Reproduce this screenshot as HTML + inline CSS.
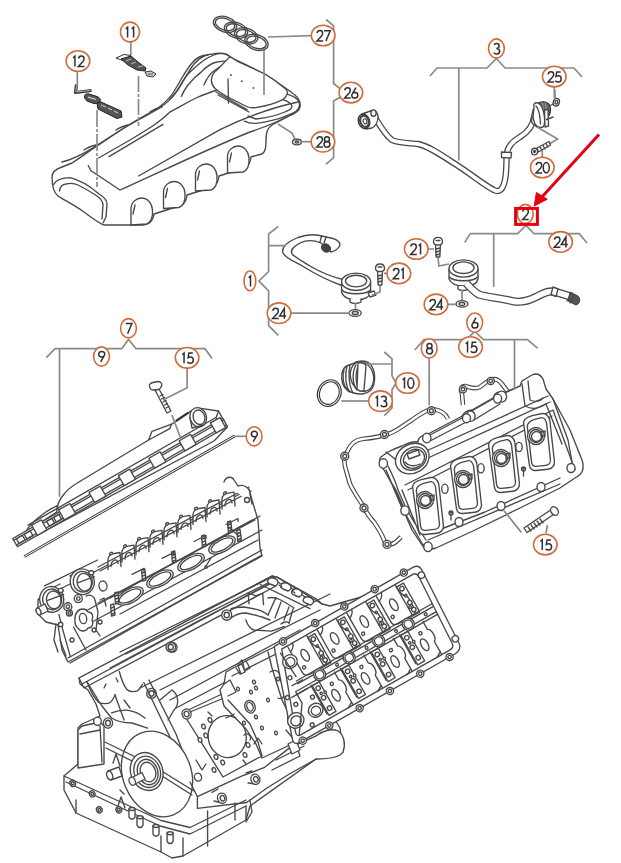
<!DOCTYPE html>
<html><head><meta charset="utf-8"><style>
html,body{margin:0;padding:0;background:#fff;width:621px;height:863px;overflow:hidden}
svg{display:block}
.c{fill:#fff;stroke:#d06c3c;stroke-width:1.6}
.d{fill:none;stroke:#303030;stroke-width:1.5;stroke-linecap:butt;stroke-linejoin:miter}
.l{fill:none;stroke:#8a8a8a;stroke-width:1.7}
.p{fill:#fff;stroke:#484848;stroke-width:1.35;stroke-linejoin:round;stroke-linecap:round}
.q{fill:none;stroke:#484848;stroke-width:1.35;stroke-linejoin:round;stroke-linecap:round}
</style></head><body>
<svg width="621" height="863" viewBox="0 0 621 863">
<g id="block">
<path class="p" d="M79,678 L80,684 L88,690 L96,704 L100,716 L82,724 L78,728 L78,764 L64,776 L64,790 L76,813 L161,852 L172,858 L183,856 L246,820 L250,806 L316,759 L343,752 L340,728 L330,712 L296,736 L440,656 L420,580 L330,606 L322,604 L277,577.2 L272,576 Z" />
<path class="p" d="M79,678 L272,576 L276,580 L82,684 Z" />
<path class="q" d="M82,684 L84,688 L276,586 L276,580" />
<path class="q" d="M120,652 L270,578 M126,654 L268,583" stroke-width="1.4"/>
<path class="q" d="M110,668 L200,620 L270,584" stroke="#555" stroke-width="2"/>
<path class="q" d="M87,681.8 C90,690 94,698 98.7,702.5 C102,704 108,704 110.3,702.5 C113,700 114,697 115.4,694.7" />
<path class="q" d="M119.3,671.5 C121,678 124,686 127,689.6 C130,692 134,692 137.3,690.9 C140,689 141,686 142.5,684.4" />
<path class="q" d="M87,681.8 L101.2,705 L111.5,718 C118,722 126,723 132,723 L147.6,728.2" />
<path class="q" d="M111.5,712.8 C116,711 122,710 127,710.2 C134,711 140,714 145,718" />
<path class="q" d="M104,688 L106,684 M116,678 L118,682" />
<path class="q" d="M124,700 L130,708 M115,695 L124,720" />
<ellipse cx="151.5" cy="693.4" rx="4.8" ry="5" transform="rotate(0 151.5 693.4)" class="p" />
<ellipse cx="151.5" cy="693.4" rx="2.5" ry="2.7" transform="rotate(0 151.5 693.4)" class="q" />
<ellipse cx="170.8" cy="647.0" rx="4.8" ry="5" transform="rotate(0 170.8 647.0)" class="p" />
<ellipse cx="170.8" cy="647.0" rx="2.5" ry="2.7" transform="rotate(0 170.8 647.0)" class="q" />
<ellipse cx="226.7" cy="615.0" rx="5" ry="5.2" transform="rotate(0 226.7 615.0)" class="p" />
<ellipse cx="226.7" cy="615.0" rx="2.6" ry="2.8" transform="rotate(0 226.7 615.0)" class="q" />
<ellipse cx="172.6" cy="647.3" rx="4.5" ry="4.8" transform="rotate(0 172.6 647.3)" class="q" />
<path class="q" d="M140,688 L330,594 M160,690 L320,610 M170,700 L300,630 M176,708 L260,664" />
<path class="q" d="M231,608.6 C236,607 240,607 244,607 C250,608 256,609 260,610.3 C264,612 266,613 268.3,615 M231,618 C236,614 242,613 246,613 C252,614 258,616 262,617 L270,620" />
<path class="q" d="M248.2,592.5 L249,603.8 M248.2,592.5 L255.4,595.8 L262.7,593.3 L263.5,604.6" />
<path class="q" d="M268,615 L276,597.4 M275,618 L281,602 M284,620 L289,607 M289,623 L293,609 M268,598 C275,596 282,600 294,608" />
<path class="q" d="M245.8,620 C248,626 250,629 254,630 L271.5,631.2 C276,630 280,628 284.4,626.4" />
<path class="q" d="M281,624 C283,622 287,621 289,623" stroke-width="2.2"/>
<path class="q" d="M260.3,584.5 L310,608.6 M272,576.5 L277,577.2 L316.6,599 L322,604" />
<path class="p" d="M268,580 C269,577 274,577 277,580 C279,582 278,585 275,586 L270,584 C268,583 267,582 268,580 Z" stroke-width="1.5"/>
<path class="p" d="M281,585 C282,582 287,582 290,585 C292,587 291,590 288,591 L283,589 C281,588 280,587 281,585 Z" stroke-width="1.5"/>
<path class="p" d="M292,591 C293,588 298,588 301,591 C303,593 302,596 299,597 L294,595 C292,594 291,593 292,591 Z" stroke-width="1.5"/>
<path class="p" d="M303.5,599 C304.5,596 309.5,596 312.5,599 C314.5,601 313.5,604 310.5,605 L305.5,603 C303.5,602 302.5,601 303.5,599 Z" stroke-width="1.5"/>
<path class="q" d="M278,582 L281,584 M291,588 L294,590 M302,595 L305,597 M279,585 L282,587 M292,591 L295,593" />
<circle cx="315.0" cy="623.0" r="2.8" class="p" />
<path class="p" d="M184,712 L222,694 L300,660 L312,735 L258,758 L223,777 L186,718 Z" />
<path class="q" d="M190,712 L224,698 M228,694 C232,700 238,704 244,700" />
<ellipse cx="227.2" cy="736.6" rx="19" ry="21" transform="rotate(-10 227.2 736.6)" class="p" stroke-width="1.1"/>
<ellipse cx="203.5" cy="726.5" rx="1.8" ry="2.4" transform="rotate(-20 203.5 726.5)" class="p" />
<ellipse cx="205.8" cy="735.5" rx="1.8" ry="2.4" transform="rotate(-20 205.8 735.5)" class="p" />
<ellipse cx="210.0" cy="720.0" rx="1.8" ry="2.4" transform="rotate(-20 210.0 720.0)" class="p" />
<ellipse cx="216.0" cy="757.0" rx="1.8" ry="2.4" transform="rotate(-20 216.0 757.0)" class="p" />
<ellipse cx="222.7" cy="762.5" rx="1.8" ry="2.4" transform="rotate(-20 222.7 762.5)" class="p" />
<ellipse cx="245.0" cy="755.0" rx="1.8" ry="2.4" transform="rotate(-20 245.0 755.0)" class="p" />
<ellipse cx="240.0" cy="714.0" rx="1.8" ry="2.4" transform="rotate(-20 240.0 714.0)" class="p" />
<ellipse cx="248.0" cy="745.0" rx="1.8" ry="2.4" transform="rotate(-20 248.0 745.0)" class="p" />
<ellipse cx="200.0" cy="740.0" rx="1.8" ry="2.4" transform="rotate(-20 200.0 740.0)" class="p" />
<ellipse cx="214.0" cy="770.0" rx="1.8" ry="2.4" transform="rotate(-20 214.0 770.0)" class="p" />
<path class="q" d="M208,712 L212,716 M243,760 L246,764 M196,760 L202,770 L206,764" />
<ellipse cx="186.6" cy="714.0" rx="4.5" ry="5" transform="rotate(-20 186.6 714.0)" class="p" />
<ellipse cx="186.6" cy="714.0" rx="2.4" ry="2.8" transform="rotate(-20 186.6 714.0)" class="q" />
<ellipse cx="198.0" cy="777.2" rx="3.5" ry="4" transform="rotate(-20 198.0 777.2)" class="p" />
<path class="q" d="M143.8,682.5 L170.9,739 M149,680 L176,734 M160,700 L172,690 C178,694 180,704 174,710 L168,720 M176,734 L186,760 M170.9,739 L176,770" />
<path class="p" d="M78,730 L82,726 L100,722 L104,726 L104,764 L78,768 Z" />
<path class="q" d="M80,734 L100,730 M100,726 L102,762" />
<ellipse cx="97.5" cy="721.3" rx="3.8" ry="4.2" transform="rotate(0 97.5 721.3)" class="p" />
<ellipse cx="108.0" cy="723.0" rx="4.6" ry="5.2" transform="rotate(0 108.0 723.0)" class="p" />
<ellipse cx="108.0" cy="723.0" rx="2.4" ry="2.8" transform="rotate(0 108.0 723.0)" class="q" />
<ellipse cx="157.0" cy="774.0" rx="34" ry="44" transform="rotate(-22 157.0 774.0)" class="p" stroke-width="1.3"/>
<path class="q" d="M104.8,742 L150,764 M106,748 L140,765 M160,770 L193.4,790.8 M162,776 L192,795 M120,790 L124,794" />
<ellipse cx="146.7" cy="771.5" rx="16" ry="19.3" transform="rotate(-20 146.7 771.5)" class="p" stroke-width="1.4"/>
<ellipse cx="147.2" cy="771.8" rx="13" ry="16" transform="rotate(-20 147.2 771.8)" class="q" />
<ellipse cx="147.7" cy="772.0" rx="10" ry="13" transform="rotate(-20 147.7 772.0)" class="p" />
<ellipse cx="148.0" cy="772.0" rx="7.5" ry="10" transform="rotate(-20 148.0 772.0)" class="q" />
<path class="p" d="M131,778 L142,772.5 L145,779 L134,784.5 Z" />
<ellipse cx="132.2" cy="781.2" rx="3" ry="4.2" transform="rotate(-25 132.2 781.2)" class="p" />
<path class="p" d="M108,771 L119,767 L122,776 L111,780 Z" />
<ellipse cx="109.7" cy="775.5" rx="2.8" ry="4.4" transform="rotate(-20 109.7 775.5)" class="p" />
<path class="q" d="M113,763 L116,754 L120,766 M118,806 L121,797 L125,808" />
<path class="q" d="M64,776 L161,820.5 L190,827.5 L246,800 M66,782 L160,826 L190,834 L246,806" />
<path class="q" d="M76,813 L76,800 M161,852 L161,836 M183,856 L183,838 M246,820 L246,806" />
<ellipse cx="72.7" cy="783.3" rx="2.8" ry="3.2" transform="rotate(-20 72.7 783.3)" class="p" />
<ellipse cx="72.7" cy="783.3" rx="1.3" ry="1.5" transform="rotate(-20 72.7 783.3)" class="q" />
<ellipse cx="92.2" cy="793.9" rx="2.8" ry="3.2" transform="rotate(-20 92.2 793.9)" class="p" />
<ellipse cx="92.2" cy="793.9" rx="1.3" ry="1.5" transform="rotate(-20 92.2 793.9)" class="q" />
<ellipse cx="99.3" cy="809.8" rx="2.8" ry="3.2" transform="rotate(-20 99.3 809.8)" class="p" />
<ellipse cx="99.3" cy="809.8" rx="1.3" ry="1.5" transform="rotate(-20 99.3 809.8)" class="q" />
<ellipse cx="118.8" cy="809.8" rx="2.8" ry="3.2" transform="rotate(-20 118.8 809.8)" class="p" />
<ellipse cx="118.8" cy="809.8" rx="1.3" ry="1.5" transform="rotate(-20 118.8 809.8)" class="q" />
<path class="p" d="M129.0,809.0 L129.0,817.0 C130.0,820.0 134.0,820.0 135.0,817.0 L135.0,809.0" />
<ellipse cx="132.0" cy="809.0" rx="3" ry="1.5" transform="rotate(0 132.0 809.0)" class="p" />
<path class="p" d="M137.0,817.2 L137.0,825.2 C138.0,828.2 142.0,828.2 143.0,825.2 L143.0,817.2" />
<ellipse cx="140.0" cy="817.2" rx="3" ry="1.5" transform="rotate(0 140.0 817.2)" class="p" />
<path class="p" d="M153.0,826.0 L153.0,834.0 C154.0,837.0 158.0,837.0 159.0,834.0 L159.0,826.0" />
<ellipse cx="156.0" cy="826.0" rx="3" ry="1.5" transform="rotate(0 156.0 826.0)" class="p" />
<path class="p" d="M167.1,833.2 L167.1,841.2 C168.1,844.2 172.1,844.2 173.1,841.2 L173.1,833.2" />
<ellipse cx="170.1" cy="833.2" rx="3" ry="1.5" transform="rotate(0 170.1 833.2)" class="p" />
<path class="q" d="M197.4,796.7 L241,776.4 L264,767.7 L290.2,747.4 L316.3,735.8 M197.4,808.3 L246.7,802.5 L267,788 L290.2,773.5 L316.3,759" />
<path class="p" d="M316.3,735.8 C322,731 332,728 338,731 C344,735 346,744 343,752 C340,757 330,759 316.3,759" />
<path class="q" d="M190,782 L197.4,796.7 L197.4,808.3 M207.6,811 L207.6,846 M235,803 L235,820 M250,800 L252,812 L246,822" />
<path class="q" d="M212,792.4 L218,789 M214,801 L222,803 M246,773 L252,771 M248,783 L256,784" />
<ellipse cx="222.0" cy="798.2" rx="4.4" ry="5.2" transform="rotate(-20 222.0 798.2)" class="p" />
<ellipse cx="222.5" cy="798.2" rx="2.2" ry="2.8" transform="rotate(-20 222.5 798.2)" class="q" />
<ellipse cx="255.4" cy="779.3" rx="4.4" ry="5.2" transform="rotate(-20 255.4 779.3)" class="p" />
<ellipse cx="255.9" cy="779.3" rx="2.2" ry="2.8" transform="rotate(-20 255.9 779.3)" class="q" />
<path class="q" d="M276,760 L304,746 M272,770 L300,756 M296,744 L300,756" />
</g><g id="cover">
<!-- outer silhouette -->
<path class="p" d="M52,177 C52,172 56,169 62,167 L72,163 C80,158 88,152 94,148 C106,140 116,133 124,128 C136,121 148,115 158,109 C166,104 172,99 178,90 C184,80 188,72 194,64 C200,57 206,54 213,54 C220,52 226,53 232,58 C252,67 272,78 291,92 C298,97 301,101 300,107 C299,111 296,113 291,115 L272,125 C268,128 266,131 266,140 C266,150 265,154 258,155 L251,157 C250,165 246,170 238,170 L219,176 C218,184 214,189 206,189 L187,195 C186,203 183,206 176,207 L154,214 C153,221 150,225 142,225 L104,225 C100,224 96,221 84,212 C76,206 64,200 58,196 C53,192 52,186 52,177 Z"/>
<!-- bumps (arches) -->
<path class="p" d="M131.0,222 L131.0,209 C131.0,202 136.5,198 141.5,198 C147.5,198 152.0,203 152.5,210 C153.0,217 151.5,222 146.5,224 L131.0,225 Z"/>
<path class="q" d="M133.0,214 L135.0,205"/>
<path class="p" d="M163.5,205.5 L163.5,192.5 C163.5,185.5 169,181.5 174,181.5 C180,181.5 184.5,186.5 185,193.5 C185.5,200.5 184,205.5 179,207.5 L163.5,208.5 Z"/>
<path class="q" d="M165.5,197.5 L167.5,188.5"/>
<path class="p" d="M195.5,188 L195.5,175 C195.5,168 201,164 206,164 C212,164 216.5,169 217,176 C217.5,183 216,188 211,190 L195.5,191 Z"/>
<path class="q" d="M197.5,180 L199.5,171"/>
<path class="p" d="M227.5,170 L227.5,157 C227.5,150 233,146 238,146 C244,146 248.5,151 249,158 C249.5,165 248,170 243,172 L227.5,173 Z"/>
<path class="q" d="M229.5,162 L231.5,153"/>
<!-- nose inner opening -->
<path class="q" d="M53.7,184.4 C56,180 60,178 70,177.7 C80,180 92,188 99,194 C104,197 107,200 107,204 L106,217 L103,223"/>
<path class="q" d="M59.5,191 C60,187 62,184.4 66,184 C70,183 74,183 78,185 C88,190 94,194 97,196 C101,199 103,201 103,205 L102,219"/>
<!-- upper rim lines (left edge double + lumps) -->
<path class="q" d="M62,162 C70,160 80,156 93.5,147.6 L124,128 C136,120 148,114 158,108 C166,102 172,96 176,88 C182,78 186,70 192,63 C196,58 202,55 208,55"/>
<path class="q" d="M84,150 C88,147 92,146 96,145 M116,130 C120,127 124,126 128,125 M150,112 C154,109 158,108 162,107"/>
<path class="q" d="M98.6,158 L130,140 C150,128 160,122 170,112 M109,156.6 L163,124.4"/>
<path class="q" d="M170,112 C178,108 184,104 196,98 C205,94 210,92 218,90"/>
<path class="q" d="M88.3,165.7 L91,170.8 L120,190 C160,172 210,148 250,132 C268,126 282,120 294,113"/>
<path class="q" d="M138.6,176 L220,129.6 C240,120 270,108 298,102"/>
<!-- plateau top ridges -->
<path class="q" d="M229.7,56.9 C228,54 226,53.3 222,53.3 C216,53.5 210,56 203.8,60.3 C196,66 192,70 188,74 C183,80 180,86 176,92 L170,99"/>
<path class="q" d="M231,61.5 C228,61 222,61 215,62.5 C208,65 205,68 201.6,71.6 C196,76 192,80 188,85 C185,89 183,92 181.3,96.4"/>
<path class="q" d="M233,63 C228,64 223,65 219.6,67 C215,70 212,72 210.6,73.8 C208,77 207,79 206,80.6 L203.8,85"/>
<path class="p" d="M229.7,56.9 C233,58 235,60 237.6,61.4 L264.7,73.8 C272,78 280,84 285,88.5 C287,90 288,92 287.2,94 C286,97 284,99 282.7,99.7 C278,102 274,103 271.4,104.2 C266,106 260,107 255.7,107.6 C252,108 249,107.5 246.6,106.5 L226.4,96.4 C222,94 218,91 215,88.5 C212,85 211,82 211.5,79 C212,75 214,72 217,70 Z"/>
<path class="q" d="M216,92 L247,109.5 M218,95 L249,112"/>
<path class="q" d="M287.2,94 C292,96 296,97 298.5,101 C300,104 300,108 296.2,111 C292,114 286,116 278.2,118.9 C270,121 262,123 255.7,123.4 C250,123.5 247,122.5 244.4,121.1"/>
<path class="q" d="M282.7,99.7 C287,101 291,103 292,106 C292,108 290,110 286,111.5 C278,115 266,118 256,119 L248,116"/>
<path class="q" d="M228,79 L228.5,103"/>
<circle cx="230.9" cy="75" r="1" fill="#555"/><circle cx="241.7" cy="81.2" r="1" fill="#555"/><circle cx="253.4" cy="88" r="1" fill="#555"/>
<!-- rings 27 -->
<g class="q" stroke-width="1.1">
<ellipse cx="225" cy="24.3" rx="12" ry="7.6" transform="rotate(18 225 24.3)"/>
<ellipse cx="225" cy="24.3" rx="10" ry="5.8" transform="rotate(18 225 24.3)"/>
<ellipse cx="236" cy="30.1" rx="12" ry="7.6" transform="rotate(18 236 30.1)"/>
<ellipse cx="236" cy="30.1" rx="10" ry="5.8" transform="rotate(18 236 30.1)"/>
<ellipse cx="246.2" cy="35.9" rx="12" ry="7.6" transform="rotate(18 246.2 35.9)"/>
<ellipse cx="246.2" cy="35.9" rx="10" ry="5.8" transform="rotate(18 246.2 35.9)"/>
<ellipse cx="256.5" cy="42.4" rx="12" ry="7.6" transform="rotate(18 256.5 42.4)"/>
<ellipse cx="256.5" cy="42.4" rx="10" ry="5.8" transform="rotate(18 256.5 42.4)"/>
</g>
<!-- badge Rs4 -->
<path d="M116,58 L124,54.5 L131,55.5 L123,60.5 Z" fill="#fff" stroke="#333" stroke-width="1"/>
<path d="M121,59 L131,56 L138,62 L146,68 L145,71 L137,70 L128,65 Z" fill="#555" stroke="#222" stroke-width="1"/>
<path d="M126,61 L131,59 M131,64 L136,62 M138,67 L143,66" stroke="#bbb" stroke-width="1" fill="none"/>
<path d="M145,72 L151,71 L156,74 L153,77 L147,76 Z" fill="#ccc" stroke="#333" stroke-width="1"/>
<path d="M148,74 L153,74" stroke="#333" stroke-width="0.8"/>
<!-- badge V8 FSI -->
<path d="M76.5,84.5 L75.5,92.5 L91.5,90.5" fill="none" stroke="#333" stroke-width="3.2" stroke-linejoin="round"/>
<path d="M76.5,85 L75.8,92 L90.5,90.5" fill="none" stroke="#bbb" stroke-width="1" stroke-linejoin="round"/>
<path d="M84.5,97 C84,94.5 86,93.5 89,94 L97,96.5 C100,97.5 101,100 100,102 C99,103.5 97,104 94,103.5 L88,101.5 C86,100.5 84.8,99 84.5,97 Z" fill="#555" stroke="#222" stroke-width="1"/>
<path d="M88,97 L96,99.5" stroke="#ddd" stroke-width="1.3"/>
<path d="M97,103 L101,102 L121,111 L122,117 L117,118.5 L98,109 Z" fill="#555" stroke="#222" stroke-width="1"/>
<path d="M101,105 L106,107 M108,108 L112,110 M114,111 L118,113" stroke="#bbb" stroke-width="1.2" fill="none"/>
<!-- leaders 11/12 to badges -->
<path class="l" d="M130.8,41.6 L130.8,55 M77.3,70.7 L77.3,86"/>
<!-- dashed center lines -->
<path class="l" d="M138.5,76 L138.5,126" stroke-dasharray="16 2 3 2"/>
<path class="l" d="M97,110 L97,187" stroke-dasharray="17 2 3 2"/>
<!-- washer 28 -->
<ellipse cx="297" cy="142" rx="4.5" ry="2.8" class="p"/>
<ellipse cx="297" cy="142" rx="1.8" ry="1" class="q"/>
<path class="l" d="M278,124 L292,133 L295,139"/>
</g>
<g id="engine">
<path class="p" d="M38,600 L38,614 L46,622 L58,625 L62,650 L68,662 L262,556 L260,548 L258,520 L252,500 L249,489 L100,569 L60,589 L44,592 Z" />
<path class="p" d="M108.0,569.5 L108.0,559.5 C108.0,556.5 111.0,553.5 114.0,553.5 L120.0,552.5 L121.0,566.5" />
<path class="q" d="M111.0,566.5 C111.0,559.5 118.0,557.5 118.0,563.5" stroke-width="1.6"/>
<ellipse cx="111.0" cy="553.5" rx="1.6" ry="1.1" transform="rotate(-28 111.0 553.5)" class="p" />
<path class="p" d="M122.0,562.1 L122.0,552.1 C122.0,549.1 125.0,546.1 128.0,546.1 L134.0,545.1 L135.0,559.1" />
<path class="q" d="M125.0,559.1 C125.0,552.1 132.0,550.1 132.0,556.1" stroke-width="1.6"/>
<ellipse cx="125.0" cy="546.1" rx="1.6" ry="1.1" transform="rotate(-28 125.0 546.1)" class="p" />
<path class="p" d="M136.0,554.7 L136.0,544.7 C136.0,541.7 139.0,538.7 142.0,538.7 L148.0,537.7 L149.0,551.7" />
<path class="q" d="M139.0,551.7 C139.0,544.7 146.0,542.7 146.0,548.7" stroke-width="1.6"/>
<ellipse cx="139.0" cy="538.7" rx="1.6" ry="1.1" transform="rotate(-28 139.0 538.7)" class="p" />
<path class="p" d="M150.0,547.3 L150.0,537.3 C150.0,534.3 153.0,531.3 156.0,531.3 L162.0,530.3 L163.0,544.3" />
<path class="q" d="M153.0,544.3 C153.0,537.3 160.0,535.3 160.0,541.3" stroke-width="1.6"/>
<ellipse cx="153.0" cy="531.3" rx="1.6" ry="1.1" transform="rotate(-28 153.0 531.3)" class="p" />
<path class="p" d="M164.0,539.8 L164.0,529.8 C164.0,526.8 167.0,523.8 170.0,523.8 L176.0,522.8 L177.0,536.8" />
<path class="q" d="M167.0,536.8 C167.0,529.8 174.0,527.8 174.0,533.8" stroke-width="1.6"/>
<ellipse cx="167.0" cy="523.8" rx="1.6" ry="1.1" transform="rotate(-28 167.0 523.8)" class="p" />
<path class="p" d="M178.0,532.4 L178.0,522.4 C178.0,519.4 181.0,516.4 184.0,516.4 L190.0,515.4 L191.0,529.4" />
<path class="q" d="M181.0,529.4 C181.0,522.4 188.0,520.4 188.0,526.4" stroke-width="1.6"/>
<ellipse cx="181.0" cy="516.4" rx="1.6" ry="1.1" transform="rotate(-28 181.0 516.4)" class="p" />
<path class="p" d="M193.0,524.5 L193.0,514.5 C193.0,511.5 196.0,508.5 199.0,508.5 L205.0,507.5 L206.0,521.5" />
<path class="q" d="M196.0,521.5 C196.0,514.5 203.0,512.5 203.0,518.5" stroke-width="1.6"/>
<ellipse cx="196.0" cy="508.5" rx="1.6" ry="1.1" transform="rotate(-28 196.0 508.5)" class="p" />
<path class="p" d="M207.0,517.0 L207.0,507.0 C207.0,504.0 210.0,501.0 213.0,501.0 L219.0,500.0 L220.0,514.0" />
<path class="q" d="M210.0,514.0 C210.0,507.0 217.0,505.0 217.0,511.0" stroke-width="1.6"/>
<ellipse cx="210.0" cy="501.0" rx="1.6" ry="1.1" transform="rotate(-28 210.0 501.0)" class="p" />
<path class="p" d="M222.0,509.1 L222.0,499.1 C222.0,496.1 225.0,493.1 228.0,493.1 L234.0,492.1 L235.0,506.1" />
<path class="q" d="M225.0,506.1 C225.0,499.1 232.0,497.1 232.0,503.1" stroke-width="1.6"/>
<ellipse cx="225.0" cy="493.1" rx="1.6" ry="1.1" transform="rotate(-28 225.0 493.1)" class="p" />
<path class="q" d="M98,567 L249,487 M100,571 L251,491" />
<path class="q" d="M84,612 L260,516 M92,622 L262,530 M68,658 L262,550 M70,663 L262,555" />
<path class="q" d="M110,598 L252,520" />
<path class="q" d="M44.5,585.8 L97.6,560 M48,590 L60,584 M70,576 L86,570" />
<ellipse cx="51.7" cy="599.4" rx="12" ry="12.9" transform="rotate(-10 51.7 599.4)" class="p" stroke-width="1.5"/>
<ellipse cx="52.2" cy="599.4" rx="9.6" ry="10.4" transform="rotate(-10 52.2 599.4)" class="q" />
<ellipse cx="53.7" cy="599.9" rx="7.2" ry="8.9" transform="rotate(-10 53.7 599.9)" class="p" stroke-width="1.2"/>
<path class="q" d="M47.7,600.4 L63.7,594.4" />
<ellipse cx="60.7" cy="590.4" rx="2.5" ry="2" transform="rotate(0 60.7 590.4)" class="p" />
<ellipse cx="82.3" cy="581.7" rx="12" ry="12.9" transform="rotate(-10 82.3 581.7)" class="p" stroke-width="1.5"/>
<ellipse cx="82.8" cy="581.7" rx="9.6" ry="10.4" transform="rotate(-10 82.8 581.7)" class="q" />
<ellipse cx="84.3" cy="582.2" rx="7.2" ry="8.9" transform="rotate(-10 84.3 582.2)" class="p" stroke-width="1.2"/>
<path class="q" d="M78.3,582.7 L94.3,576.7" />
<ellipse cx="91.3" cy="572.7" rx="2.5" ry="2" transform="rotate(0 91.3 572.7)" class="p" />
<path class="p" d="M37,608 L45,604 L48,611 L40,615 Z" />
<ellipse cx="38.5" cy="611.5" rx="2.2" ry="3.6" transform="rotate(-25 38.5 611.5)" class="p" />
<path class="q" d="M59,614.7 L62.2,627.6 L70.3,656.6 M73.5,627 L86,650 M56,624 L54,640 L58,652 M60,640 L66,656" />
<circle cx="67.8" cy="606.7" r="4" class="p" stroke-width="1.5"/>
<circle cx="67.8" cy="606.7" r="1.8" class="q" stroke-width="1.6"/>
<circle cx="78.3" cy="598.6" r="4" class="p" stroke-width="1.5"/>
<circle cx="78.3" cy="598.6" r="1.8" class="q" stroke-width="1.6"/>
<circle cx="69.4" cy="613.0" r="3" class="p" stroke-width="1.5"/>
<circle cx="69.4" cy="613.0" r="1.35" class="q" stroke-width="1.6"/>
<path class="p" d="M77,612 C80,608 86,608 88,612 C92,612 94,616 92,620 C94,624 92,628 88,628 C86,632 80,632 78,628 C74,626 74,616 77,612 Z" />
<ellipse cx="83.1" cy="618.5" rx="3.6" ry="5.2" transform="rotate(-10 83.1 618.5)" class="p" />
<circle cx="60.6" cy="624.4" r="2.2" class="p" />
<circle cx="94.0" cy="630.0" r="2" class="p" />
<circle cx="100.0" cy="622.0" r="2" class="p" />
<circle cx="72.0" cy="640.0" r="2" class="p" />
<path class="q" d="M86,596 C90,594 94,596 95,600 L98,612 L96,630 L100,636 M100,600 L104,598 L106,606" />
<ellipse cx="103.0" cy="586.0" rx="4" ry="5" transform="rotate(-10 103.0 586.0)" class="p" />
<ellipse cx="130.0" cy="596.0" rx="14.5" ry="7" transform="rotate(-28 130.0 596.0)" class="p" />
<ellipse cx="130.0" cy="596.0" rx="12" ry="5" transform="rotate(-28 130.0 596.0)" class="q" />
<ellipse cx="160.0" cy="579.0" rx="14.5" ry="7" transform="rotate(-28 160.0 579.0)" class="p" />
<ellipse cx="160.0" cy="579.0" rx="12" ry="5" transform="rotate(-28 160.0 579.0)" class="q" />
<ellipse cx="191.0" cy="562.5" rx="14.5" ry="7" transform="rotate(-28 191.0 562.5)" class="p" />
<ellipse cx="191.0" cy="562.5" rx="12" ry="5" transform="rotate(-28 191.0 562.5)" class="q" />
<ellipse cx="222.0" cy="545.0" rx="14.5" ry="7" transform="rotate(-28 222.0 545.0)" class="p" />
<ellipse cx="222.0" cy="545.0" rx="12" ry="5" transform="rotate(-28 222.0 545.0)" class="q" />
<path class="p" d="M141.5,570.0 L144.8,569.0 L146.0,580.0 L142.5,581.0 Z" />
<path class="q" d="M142.0,573.0 L145.0,572.0 M142.5,576.0 L145.5,575.0 M143.0,579.0 L146.0,578.0" />
<path class="p" d="M171.5,552.0 L174.8,551.0 L176.0,562.0 L172.5,563.0 Z" />
<path class="q" d="M172.0,555.0 L175.0,554.0 M172.5,558.0 L175.5,557.0 M173.0,561.0 L176.0,560.0" />
<path class="p" d="M201.5,536.0 L204.8,535.0 L206.0,546.0 L202.5,547.0 Z" />
<path class="q" d="M202.0,539.0 L205.0,538.0 M202.5,542.0 L205.5,541.0 M203.0,545.0 L206.0,544.0" />
<path class="p" d="M227.5,522.0 L230.8,521.0 L232.0,532.0 L228.5,533.0 Z" />
<path class="q" d="M228.0,525.0 L231.0,524.0 M228.5,528.0 L231.5,527.0 M229.0,531.0 L232.0,530.0" />
<path class="p" d="M236.8,530.5 L240.1,529.5 L241.3,540.5 L237.8,541.5 Z" />
<path class="q" d="M237.3,533.5 L240.3,532.5 M237.8,536.5 L240.8,535.5 M238.3,539.5 L241.3,538.5" />
<path class="p" d="M110.5,605.0 L113.8,604.0 L115.0,615.0 L111.5,616.0 Z" />
<path class="q" d="M111.0,608.0 L114.0,607.0 M111.5,611.0 L114.5,610.0 M112.0,614.0 L115.0,613.0" />
<path class="p" d="M114.5,593.0 L117.8,592.0 L119.0,603.0 L115.5,604.0 Z" />
<path class="q" d="M115.0,596.0 L118.0,595.0 M115.5,599.0 L118.5,598.0 M116.0,602.0 L119.0,601.0" />
<path class="q" d="M238,535 L228,527 M211,558 L206,566" />
<circle cx="206.0" cy="567.0" r="1.2" class="q" />
<path class="q" d="M98,603 L255,520 M120,614 L258,540" />
<path class="q" d="M132.0,574.3 L144.0,568.3 L144.0,571.3" />
<path class="q" d="M162.0,558.4 L174.0,552.4 L174.0,555.4" />
<path class="q" d="M194.0,541.5 L206.0,535.5 L206.0,538.5" />
<path class="q" d="M226.0,524.5 L238.0,518.5 L238.0,521.5" />
<path class="p" d="M224,482 C226,476 232,476 234,480 L238,486 C244,484 250,488 250,494 L252,504" />
<circle cx="247.0" cy="500.0" r="2.5" class="q" />
</g><g id="hcover">
<!-- gasket 8 outer (double line) -->
<g fill="none" stroke="#484848" stroke-width="4.6" stroke-linejoin="round">
<path d="M448,419 C446,414 440,410 432,409 C426,410 420,414 412,420 C402,426 396,432 388,434 C380,437 372,438 362,439 C354,440 350,445 347,452 C343,458 344,464 346,470 L350,484 C354,492 358,498 362,504 C366,512 370,518 374,522 C378,528 382,534 384,540 C386,546 392,546 398,540 L401,537"/>
<path d="M463,405 L462,394 C460,390 461,386 465,386 C470,387 474,390 480,387 C484,384 486,382 490,380 C495,378 499,380 502,384 L508,392"/>
<path d="M460,521 C470,518 482,513 496,509 C510,503 524,497 534,491 C548,485 560,478 572,470"/>
</g>
<g fill="none" stroke="#fff" stroke-width="2.4" stroke-linejoin="round">
<path d="M448,419 C446,414 440,410 432,409 C426,410 420,414 412,420 C402,426 396,432 388,434 C380,437 372,438 362,439 C354,440 350,445 347,452 C343,458 344,464 346,470 L350,484 C354,492 358,498 362,504 C366,512 370,518 374,522 C378,528 382,534 384,540 C386,546 392,546 398,540 L401,537"/>
<path d="M463,405 L462,394 C460,390 461,386 465,386 C470,387 474,390 480,387 C484,384 486,382 490,380 C495,378 499,380 502,384 L508,392"/>
<path d="M460,521 C470,518 482,513 496,509 C510,503 524,497 534,491 C548,485 560,478 572,470"/>
</g>
<g class="p" stroke-width="1.1">
<circle cx="431.4" cy="410.7" r="4"/><circle cx="384.5" cy="434.5" r="4"/><circle cx="344.7" cy="456.2" r="4"/><circle cx="364" cy="508" r="4"/><circle cx="387" cy="544.4" r="4"/>
<circle cx="463" cy="389.3" r="3.6"/><circle cx="490.7" cy="380.9" r="3.6"/>
</g>
<g class="q"><circle cx="431.4" cy="410.7" r="2"/><circle cx="384.5" cy="434.5" r="2"/><circle cx="344.7" cy="456.2" r="2"/><circle cx="364" cy="508" r="2"/><circle cx="387" cy="544.4" r="2"/><circle cx="463" cy="389.3" r="1.8"/><circle cx="490.7" cy="380.9" r="1.8"/></g>
<!-- cover body silhouette -->
<path class="p" d="M381,457 C378,460 380,466 384,470 L392,484 L402,508 L420,540 C424,548 430,550 436,548 L475,530 L520,508 L560,488 L578,476 C584,472 584,466 582,460 L570,430 L553,399 L546,389 L543,379 C540,374 536,373 532,375 L522,381 L520,386 L503,393 C498,391 494,393 493,398 L472,410 C466,410 462,414 462,418 L428,436 C422,434 418,438 418,442 C414,441 408,443 402,446 C396,448 392,450 388,452 Z"/>
<!-- top rails -->
<path class="q" d="M386,452 C390,455 394,458 397,461"/>
<path class="q" d="M428,434 L470,412 M430,441 L472,419 M424,452 L548,396 M428,458 L550,402"/>
<path class="q" d="M470,412 L498,396 M474,420 L500,404 M505,393 L520,386"/>
<path class="q" d="M405,485 L553,410 L575,470 M408,490 L552,416"/>
<path class="q" d="M388,466 C392,474 396,482 398,490 L406,508 L414,522 L426,540 M402,490 L420,535 M392,484 C396,488 400,500 405,510 M386,470 L398,498 L412,530 L424,548"/>
<path class="q" d="M431,533 L485,512 L560,478 M428,540 L560,484"/>
<path class="q" d="M522,384 L525,406 C532,410 540,408 546,404 M528,381 L530,400 C534,402 540,402 543,398"/>
<path class="q" d="M553,399 L568,440 L572,462 M546,404 L562,444"/>
<!-- bosses -->
<g class="p"><ellipse cx="383.3" cy="463.5" rx="4.2" ry="4.8"/><ellipse cx="405" cy="510.6" rx="4.2" ry="4.8"/><ellipse cx="428" cy="546.8" rx="4.2" ry="4.8"/><ellipse cx="426.8" cy="438" rx="4.2" ry="4.8"/><ellipse cx="501.6" cy="396.6" rx="5" ry="5.5"/><ellipse cx="497.6" cy="398.6" rx="4" ry="4.5"/><ellipse cx="470.5" cy="416.2" rx="4.6" ry="5.2"/><ellipse cx="466.5" cy="418.2" rx="4" ry="4.5"/><ellipse cx="459" cy="522" rx="4" ry="4.5"/><ellipse cx="571" cy="468" rx="4" ry="4.5"/><ellipse cx="501" cy="506" rx="4" ry="4.5"/><ellipse cx="541" cy="487" rx="4" ry="4.5"/></g>
<!-- oil filler boss -->
<ellipse cx="412.3" cy="458.6" rx="17.5" ry="14.5" transform="rotate(-30 412.3 458.6)" class="p" stroke-width="1.6"/>
<ellipse cx="413.5" cy="458.6" rx="13.5" ry="11" transform="rotate(-30 413.5 458.6)" class="q" stroke-width="1.3"/>
<ellipse cx="414" cy="458.8" rx="11" ry="9" transform="rotate(-30 414 458.8)" class="q"/>
<path class="p" d="M407,454 L418,450 L420,455 L409,459 Z"/>
<path class="q" d="M405,462 C408,466 414,467 420,464"/>
<!-- coil wells -->
<g>
<path class="p" d="M414.7,487 C414,482 418,480 424,479 L434,478 C438,478 440,481 441,485 L441.3,527 C441.3,531 438,534 434,534 L422,534 C418,534 416,531 416,527 Z" transform="rotate(-6 428 506)"/>
<path class="q" d="M418,490 C418,486 421,484 426,483 L433,482 C436,482 437,485 437.5,488 L437.5,525 C437.5,528 435,530 432,530 L423,530 C420,530 418.5,528 418.5,525 Z" transform="rotate(-6 428 506)"/>
<circle cx="425" cy="500" r="8.5" class="p" stroke-width="1.3"/>
<circle cx="425" cy="500" r="6.5" class="q"/>
<circle cx="425.5" cy="500.5" r="5" class="q" stroke-width="1.2"/>
<path class="q" d="M430,496 L434,495 L434,500 L430,500"/>
</g><g transform="translate(38,-21)">
<path class="p" d="M414.7,487 C414,482 418,480 424,479 L434,478 C438,478 440,481 441,485 L441.3,527 C441.3,531 438,534 434,534 L422,534 C418,534 416,531 416,527 Z" transform="rotate(-6 428 506)"/>
<path class="q" d="M418,490 C418,486 421,484 426,483 L433,482 C436,482 437,485 437.5,488 L437.5,525 C437.5,528 435,530 432,530 L423,530 C420,530 418.5,528 418.5,525 Z" transform="rotate(-6 428 506)"/>
<circle cx="425" cy="500" r="8.5" class="p" stroke-width="1.3"/>
<circle cx="425" cy="500" r="6.5" class="q"/>
<circle cx="425.5" cy="500.5" r="5" class="q" stroke-width="1.2"/>
<path class="q" d="M430,496 L434,495 L434,500 L430,500"/>
</g><g transform="translate(76,-42)">
<path class="p" d="M414.7,487 C414,482 418,480 424,479 L434,478 C438,478 440,481 441,485 L441.3,527 C441.3,531 438,534 434,534 L422,534 C418,534 416,531 416,527 Z" transform="rotate(-6 428 506)"/>
<path class="q" d="M418,490 C418,486 421,484 426,483 L433,482 C436,482 437,485 437.5,488 L437.5,525 C437.5,528 435,530 432,530 L423,530 C420,530 418.5,528 418.5,525 Z" transform="rotate(-6 428 506)"/>
<circle cx="425" cy="500" r="8.5" class="p" stroke-width="1.3"/>
<circle cx="425" cy="500" r="6.5" class="q"/>
<circle cx="425.5" cy="500.5" r="5" class="q" stroke-width="1.2"/>
<path class="q" d="M430,496 L434,495 L434,500 L430,500"/>
</g><g transform="translate(111,-64)">
<path class="p" d="M414.7,487 C414,482 418,480 424,479 L434,478 C438,478 440,481 441,485 L441.3,527 C441.3,531 438,534 434,534 L422,534 C418,534 416,531 416,527 Z" transform="rotate(-6 428 506)"/>
<path class="q" d="M418,490 C418,486 421,484 426,483 L433,482 C436,482 437,485 437.5,488 L437.5,525 C437.5,528 435,530 432,530 L423,530 C420,530 418.5,528 418.5,525 Z" transform="rotate(-6 428 506)"/>
<circle cx="425" cy="500" r="8.5" class="p" stroke-width="1.3"/>
<circle cx="425" cy="500" r="6.5" class="q"/>
<circle cx="425.5" cy="500.5" r="5" class="q" stroke-width="1.2"/>
<path class="q" d="M430,496 L434,495 L434,500 L430,500"/>
</g>
<!-- small holes -->
<g class="p"><ellipse cx="444.9" cy="488.8" rx="3.2" ry="4.6"/><ellipse cx="481" cy="468.3" rx="3.2" ry="4.6"/><ellipse cx="519" cy="447" rx="3.2" ry="4.6"/></g>
<!-- breather tees -->
<path class="q" d="M449.5,512 L452.5,512 M451,512 L451,520 M522,468 L525,468 M523.5,468 L523.5,476"/>
<circle cx="451" cy="513" r="2" class="q"/><circle cx="523.5" cy="469" r="2" class="q"/>
<!-- bolt 15c -->
<path class="p" d="M524,528 L552,509 L555,513.5 L527,532.5 Z"/>
<path class="q" d="M528,527 L531,531 M531,525 L534,529 M534,523 L537,527 M537,521 L540,525 M540,519 L543,523"/>
<ellipse cx="554.5" cy="511" rx="3.5" ry="4.6" transform="rotate(-35 554.5 511)" class="p"/>
<path class="l" d="M504,510.7 L521.3,532.4 M547.4,525 L546,533.5"/>
<!-- cap 10 -->
<path class="p" d="M352,364 C358,360 366,360 370,364 C376,370 376,384 371,390 C367,394 360,395 354,393 L348,391 C343,387 341,380 342,373 C343,368 347,365 352,364 Z"/>
<path class="q" d="M344,370 C342,376 343,386 348,390 M347,366 C345,374 345,386 350,392 M350,365 C348,374 349,386 353,393"/>
<ellipse cx="362" cy="376.5" rx="11.4" ry="15" transform="rotate(-15 362 376.5)" class="p"/>
<path class="q" d="M356,365 C352,372 352,384 357,390 M359,364 C355,372 355,384 360,391"/>
<path class="p" d="M358,363 C362,362 366,364 366,366 L364,390 C362,392 359,391 357,389 Z"/>
<!-- ring 13 -->
<ellipse cx="329.3" cy="393.1" rx="11.6" ry="13.6" transform="rotate(25 329.3 393.1)" fill="none" stroke="#333" stroke-width="1.1"/>
<ellipse cx="329.3" cy="393.1" rx="9.6" ry="11.6" transform="rotate(25 329.3 393.1)" fill="none" stroke="#333" stroke-width="1.1"/>
</g>
<g id="pipes">
<!-- pipe 3 -->
<path d="M374,116 C378,122 384,134 392,140 C398,143 410,143 418,144 C428,146 440,154 452,162 C470,173 485,186 494,190 C500,193 503,189 505,180 C507,170 506,160 507,153 C508,146 513,141 520,137 C528,132 533,126 534,117 L536,109" fill="none" stroke="#484848" stroke-width="6.4" stroke-linecap="butt"/>
<path d="M374,116 C378,122 384,134 392,140 C398,143 410,143 418,144 C428,146 440,154 452,162 C470,173 485,186 494,190 C500,193 503,189 505,180 C507,170 506,160 507,153 C508,146 513,141 520,137 C528,132 533,126 534,117 L536,109" fill="none" stroke="#fff" stroke-width="3.8" stroke-linecap="butt"/>
<!-- collar -->
<path class="p" d="M501.5,152 L511.5,152.5 L511,158 L501.5,157.5 Z"/>
<!-- left fitting -->
<path class="p" d="M362,114 L372,110.5 C376,110 378,113 378,117 C378,121 376,126 372,128 L366,129 Z"/>
<ellipse cx="373.5" cy="113" rx="2.6" ry="3.2" class="p"/>
<ellipse cx="364" cy="121.3" rx="5.6" ry="7.4" transform="rotate(-20 364 121.3)" fill="#fff" stroke="#333" stroke-width="1.4"/>
<ellipse cx="364.5" cy="121.3" rx="4.2" ry="5.8" transform="rotate(-20 364.5 121.3)" fill="none" stroke="#444" stroke-width="2.2"/>
<ellipse cx="365" cy="121.3" rx="1.8" ry="2.6" transform="rotate(-20 365 121.3)" fill="#fff" stroke="#333" stroke-width="1"/>
<!-- valve 3 -->
<path d="M537,104 C540,101 546,101 549,104 C551,107 551,113 549,116 L546,118 L538,114 Z" fill="#666" stroke="#222" stroke-width="1"/>
<path d="M539,103 L542,115 M542,102 L545,116 M545,102.5 L548,116" stroke="#bbb" stroke-width="0.6" fill="none"/>
<path class="p" d="M534,107 C533,104 535,102 538,103 C541,104 543,108 544,114 C545,120 545,125 543,127 C540,128 537,127 535,124 L533,118 Z"/>
<path class="q" d="M536,106 C538,108 540,114 540.5,124 M533,117 C531,118 531,122 533,124 L537,127"/>
<path class="p" d="M544.5,110 L548,109.5 L548.5,126 L545,127 Z"/>
<path class="q" d="M549,106 L553.5,104 M546.5,119.5 L553,117"/>
<ellipse cx="556.3" cy="102.2" rx="3" ry="3.8" class="p" transform="rotate(20 556.3 102.2)"/>
<ellipse cx="556.3" cy="102.2" rx="1.3" ry="1.8" class="q" transform="rotate(20 556.3 102.2)"/>
<path class="l" d="M555,90 L555,98"/>
<path class="l" d="M537,127 L557.6,139 L546.7,145.4"/>
<!-- bolt 20 -->
<path class="p" d="M537,148 L549,141.5 L550.5,145 L538.5,152 Z"/>
<path class="q" d="M540,147 L542,150.5 M543,145.5 L545,149 M546,143.5 L548,147"/>
<ellipse cx="534.5" cy="151.5" rx="3" ry="3.3" class="p"/>
<ellipse cx="534.5" cy="151.5" rx="1.5" ry="1.7" fill="#444"/>
<!-- hose 1 -->
<path class="p" d="M343,286 C332,282 320,277 304,267 C296,262 286,259 283,253 C281,247 287,242 298,237.5 C306,234.5 316,234 324,236.5 L333,238.5 C338,240 341,243 339.5,246 C338,249 335,251 331,252 L321,243 C314,240 306,240 300,243 C293,247 290,250 292,254 C296,258 302,261 310,266 C320,272 332,277 345,280 Z"/>
<path class="q" d="M321.5,236 L320,242 M326,237 L324,243"/>
<ellipse cx="326" cy="248" rx="4.8" ry="4" transform="rotate(30 326 248)" fill="#444" stroke="#333" stroke-width="0.8"/>
<!-- PCV 1 -->
<path class="p" d="M341.6,282 L341.6,292 C343,297 349,300 356,300 C364,300 370,297 370.6,292 L370.6,282 Z"/>
<ellipse cx="356.1" cy="281.8" rx="14.5" ry="8.7" class="p"/>
<ellipse cx="356.1" cy="281" rx="10.6" ry="5.8" class="q"/>
<path class="q" d="M342,290 C346,295 366,295 370.5,290"/>
<path class="p" d="M350,299 L350,302 C352,304 358,304 361,302 L361,299"/>
<path class="p" d="M368,293 L374,291 L376,295 L370,297 Z"/>
<path class="l" d="M355.5,303 L355.5,310"/>
<ellipse cx="355.2" cy="313" rx="6" ry="3.4" class="p"/>
<ellipse cx="355.2" cy="313" rx="3" ry="1.5" class="q"/>
<!-- bolt 21 (1) -->
<path class="p" d="M377.5,270 L382.5,270 L381.8,285 L378.2,285 Z"/>
<path class="q" d="M377.8,276 L382.2,275 M377.9,279 L382,278 M378,282 L381.9,281"/>
<path class="p" d="M375.5,268.5 C375.5,265.5 377.5,264 380,264 C382.5,264 384.5,265.5 384.5,268.5 C384.5,270.5 382.5,271.5 380,271.5 C377.5,271.5 375.5,270.5 375.5,268.5 Z"/>
<path class="q" d="M378.2,267 L381.8,267"/>
<path class="l" d="M380,286 L380,292 L372,295"/>
<!-- PCV 2 -->
<path class="p" d="M449,269 L449,279 C451,284 457,286 464,286 C471,286 477,284 478,279 L478,269 Z"/>
<ellipse cx="463.5" cy="268.5" rx="14.5" ry="8.7" class="p"/>
<ellipse cx="463.5" cy="267.7" rx="10.6" ry="5.8" class="q"/>
<path class="q" d="M449.5,277 C453,282 474,282 477.5,277"/>
<path class="p" d="M458,286 L458,289 C460,291 466,291 468,289 L468,286"/>
<path class="l" d="M462,290 L462,300"/>
<ellipse cx="462" cy="303.9" rx="6" ry="3.2" class="p"/>
<ellipse cx="462" cy="303.9" rx="3" ry="1.4" class="q"/>
<!-- bolt 21 (2) -->
<path class="p" d="M435.5,244 L440.5,244 L439.8,257 L436.2,257 Z"/>
<path class="q" d="M435.8,249 L440.2,248 M435.9,252 L440,251 M436,255 L439.9,254"/>
<path class="p" d="M433.5,242 C433.5,239 435.5,237.3 438,237.3 C440.5,237.3 442.5,239 442.5,242 C442.5,244 440.5,245 438,245 C435.5,245 433.5,244 433.5,242 Z"/>
<path class="q" d="M436.2,240.5 L439.8,240.5"/>
<path class="l" d="M438,258 L438.9,266 L449,264"/>
<!-- hose 2 -->
<path d="M466,283 C470,287 474,292 479,294.5 C486,297 500,298 512,301 C520,303 528,301 536,297 C542,294 548,290 556,292 L572,297" fill="none" stroke="#484848" stroke-width="8.2"/>
<path d="M466,283 C470,287 474,292 479,294.5 C486,297 500,298 512,301 C520,303 528,301 536,297 C542,294 548,290 556,292 L572,297" fill="none" stroke="#fff" stroke-width="5.6"/>
<path class="p" d="M553,287 L558,289 L556,296.5 L551,294.5 Z"/>
<path d="M570,292 L578,296 C581,299 580,304 576,305 L568,301 Z" fill="#555" stroke="#333" stroke-width="0.9"/>
<path class="q" d="M571,294 L567,301 M574,296 L570,303"/>
</g>
<g id="rhead">
<path class="p" d="M226,672 L246,661 L268,650 L290,640 L300,660 L312,735 L290,745 L262,758 L256,744 L246,729 L224,706 L220,690 L224,684 Z" />
<path class="q" d="M232,676 L284,650 M228,700 L250,724 L258,742 L262,756 M234,714 L226,718 M268,652 L272,668 L282,700 L294,724 L300,738" />
<path class="q" d="M246,661 L250,668 L240,674 L236,668 M224,684 L230,680 L236,692 L228,696" />
<ellipse cx="250.0" cy="706.7" rx="5" ry="6.5" transform="rotate(-20 250.0 706.7)" class="p" />
<ellipse cx="250.0" cy="706.7" rx="3" ry="4.5" transform="rotate(-20 250.0 706.7)" class="q" />
<ellipse cx="289.6" cy="659.3" rx="6.8" ry="7.48" transform="rotate(-20 289.6 659.3)" class="p" stroke-width="1.2"/>
<ellipse cx="290.2" cy="659.3" rx="4.42" ry="5.1" transform="rotate(-20 290.2 659.3)" class="q" stroke-width="1.3"/>
<ellipse cx="295.3" cy="718.2" rx="7.6" ry="8.36" transform="rotate(-20 295.3 718.2)" class="p" stroke-width="1.2"/>
<ellipse cx="295.9" cy="718.2" rx="4.9399999999999995" ry="5.699999999999999" transform="rotate(-20 295.9 718.2)" class="q" stroke-width="1.3"/>
<ellipse cx="314.7" cy="706.7" rx="6.8" ry="7.48" transform="rotate(-20 314.7 706.7)" class="p" stroke-width="1.2"/>
<ellipse cx="315.3" cy="706.7" rx="4.42" ry="5.1" transform="rotate(-20 315.3 706.7)" class="q" stroke-width="1.3"/>
<ellipse cx="278.0" cy="679.0" rx="1.4" ry="1.9" transform="rotate(-20 278.0 679.0)" class="p" />
<ellipse cx="284.0" cy="688.0" rx="1.4" ry="1.9" transform="rotate(-20 284.0 688.0)" class="p" />
<ellipse cx="281.0" cy="676.0" rx="1.4" ry="1.9" transform="rotate(-20 281.0 676.0)" class="p" />
<ellipse cx="251.0" cy="692.0" rx="1.4" ry="1.9" transform="rotate(-20 251.0 692.0)" class="p" />
<ellipse cx="256.0" cy="688.0" rx="1.4" ry="1.9" transform="rotate(-20 256.0 688.0)" class="p" />
<ellipse cx="238.0" cy="689.0" rx="1.4" ry="1.9" transform="rotate(-20 238.0 689.0)" class="p" />
<ellipse cx="244.0" cy="723.0" rx="1.4" ry="1.9" transform="rotate(-20 244.0 723.0)" class="p" />
<ellipse cx="256.0" cy="717.0" rx="1.4" ry="1.9" transform="rotate(-20 256.0 717.0)" class="p" />
<ellipse cx="262.0" cy="728.0" rx="1.4" ry="1.9" transform="rotate(-20 262.0 728.0)" class="p" />
<ellipse cx="276.0" cy="733.0" rx="1.4" ry="1.9" transform="rotate(-20 276.0 733.0)" class="p" />
<ellipse cx="268.0" cy="700.0" rx="1.4" ry="1.9" transform="rotate(-20 268.0 700.0)" class="p" />
<ellipse cx="254.0" cy="682.0" rx="1.4" ry="1.9" transform="rotate(-20 254.0 682.0)" class="p" />
<path class="q" d="M270,672 C276,668 280,672 280,678 L284,690 C286,696 282,700 278,698 M244,735 C248,732 252,736 250,740 M286,730 L296,742" />
<path class="q" d="M238,664 L242,660 L244,668 M254,744 L258,738 L262,744" />
<path class="p" d="M238,666 L242,664 L245,672 L241,674 Z" />
<path class="p" d="M288,744 L296,740 L300,750 L292,754 Z" />
<g transform="matrix(0.869,-0.495,0.495,0.869,284.5,644)">
<path class="p" d="M-10,-3 L150,-3 C154,-3 156,0 156,4 L152,86 C152,90 148,93 144,93 L-36,93 C-40,93 -42,90 -40,86 L-12,2 Z" stroke-width="1.1"/>
<path class="q" d="M-5,3 L146,3 C149,3 150,5 150,8 L146,82 C146,85 144,87 141,87 L-31,87 C-34,87 -35,85 -34,82 L-6,6 Z" />
<circle cx="0.0" cy="-3.0" r="3.6" class="p" />
<circle cx="0.0" cy="-3.0" r="1.7" class="q" />
<circle cx="37.0" cy="-3.0" r="3.6" class="p" />
<circle cx="37.0" cy="-3.0" r="1.7" class="q" />
<circle cx="70.5" cy="-3.0" r="3.6" class="p" />
<circle cx="70.5" cy="-3.0" r="1.7" class="q" />
<circle cx="105.5" cy="-3.0" r="3.6" class="p" />
<circle cx="105.5" cy="-3.0" r="1.7" class="q" />
<circle cx="139.0" cy="-3.0" r="3.6" class="p" />
<circle cx="139.0" cy="-3.0" r="1.7" class="q" />
<circle cx="-32.0" cy="93.0" r="3.6" class="p" />
<circle cx="-32.0" cy="93.0" r="1.7" class="q" />
<circle cx="-1.4" cy="93.0" r="3.6" class="p" />
<circle cx="-1.4" cy="93.0" r="1.7" class="q" />
<circle cx="33.5" cy="93.0" r="3.6" class="p" />
<circle cx="33.5" cy="93.0" r="1.7" class="q" />
<circle cx="68.4" cy="93.0" r="3.6" class="p" />
<circle cx="68.4" cy="93.0" r="1.7" class="q" />
<circle cx="103.3" cy="93.0" r="3.6" class="p" />
<circle cx="103.3" cy="93.0" r="1.7" class="q" />
<circle cx="137.0" cy="93.0" r="3.6" class="p" />
<circle cx="137.0" cy="93.0" r="1.7" class="q" />
<circle cx="153.0" cy="8.0" r="3.2" class="p" />
<circle cx="151.0" cy="80.0" r="3.2" class="p" />
<path class="q" d="M-8,38 L148,38 M-8,41 L148,41 M-14,47 L148,47 M-14,50 L148,50" />
<path class="q" d="M1.4000000000000004,4 L1.4000000000000004,34 C1.4000000000000004,38 5.4,39 9.4,39 L21.4,39 C25.4,39 28.4,37 28.4,33 L28.4,20 C24.4,18 23.4,12 23.4,4" />
<ellipse cx="12.4" cy="20.0" rx="3.4" ry="6.4" transform="rotate(0 12.4 20.0)" class="p" />
<path class="q" d="M23.4,6 L31.4,6 L31.4,39 L23.4,39 Z" />
<circle cx="27.4" cy="10.0" r="2.2" class="p" />
<circle cx="27.4" cy="26.0" r="2.2" class="p" />
<circle cx="27.4" cy="34.0" r="2.2" class="p" />
<circle cx="27.4" cy="18.0" r="1.2" class="q" />
<circle cx="15.4" cy="44.0" r="6" class="p" stroke-width="1.1"/>
<circle cx="15.4" cy="44.0" r="4.2" class="q" />
<path class="q" d="M2.4000000000000004,49 L2.4000000000000004,82 M29.4,49 L29.4,58 C33.4,60 33.4,70 29.4,72 L29.4,86" />
<ellipse cx="19.4" cy="70.0" rx="3.4" ry="6.4" transform="rotate(0 19.4 70.0)" class="p" />
<path class="q" d="M3.4000000000000004,50 L11.4,50 L11.4,84 L3.4000000000000004,84 Z" />
<circle cx="7.4" cy="55.0" r="2.2" class="p" />
<circle cx="7.4" cy="66.0" r="2.2" class="p" />
<circle cx="7.4" cy="78.0" r="2.2" class="p" />
<circle cx="7.4" cy="61.0" r="1.2" class="q" />
<circle cx="35.4" cy="44.0" r="1.4" class="p" />
<circle cx="5.4" cy="30.0" r="1.6" class="p" />
<circle cx="21.4" cy="58.0" r="1.6" class="p" />
<circle cx="11.4" cy="62.0" r="1.3" class="p" />
<circle cx="25.4" cy="30.0" r="1.3" class="p" />
<path class="q" d="M1.4000000000000004,10 C5.4,8 7.4,6 7.4,3 M29.4,84 C25.4,86 23.4,88 23.4,87" />
<path class="q" d="M35.4,4 L35.4,34 C35.4,38 39.4,39 43.4,39 L55.4,39 C59.4,39 62.4,37 62.4,33 L62.4,20 C58.4,18 57.4,12 57.4,4" />
<ellipse cx="46.4" cy="20.0" rx="3.4" ry="6.4" transform="rotate(0 46.4 20.0)" class="p" />
<path class="q" d="M57.4,6 L65.4,6 L65.4,39 L57.4,39 Z" />
<circle cx="61.4" cy="10.0" r="2.2" class="p" />
<circle cx="61.4" cy="26.0" r="2.2" class="p" />
<circle cx="61.4" cy="34.0" r="2.2" class="p" />
<circle cx="61.4" cy="18.0" r="1.2" class="q" />
<circle cx="49.4" cy="44.0" r="6" class="p" stroke-width="1.1"/>
<circle cx="49.4" cy="44.0" r="4.2" class="q" />
<path class="q" d="M36.4,49 L36.4,82 M63.4,49 L63.4,58 C67.4,60 67.4,70 63.4,72 L63.4,86" />
<ellipse cx="53.4" cy="70.0" rx="3.4" ry="6.4" transform="rotate(0 53.4 70.0)" class="p" />
<path class="q" d="M37.4,50 L45.4,50 L45.4,84 L37.4,84 Z" />
<circle cx="41.4" cy="55.0" r="2.2" class="p" />
<circle cx="41.4" cy="66.0" r="2.2" class="p" />
<circle cx="41.4" cy="78.0" r="2.2" class="p" />
<circle cx="41.4" cy="61.0" r="1.2" class="q" />
<circle cx="69.4" cy="44.0" r="1.4" class="p" />
<circle cx="39.4" cy="30.0" r="1.6" class="p" />
<circle cx="55.4" cy="58.0" r="1.6" class="p" />
<circle cx="45.4" cy="62.0" r="1.3" class="p" />
<circle cx="59.4" cy="30.0" r="1.3" class="p" />
<path class="q" d="M35.4,10 C39.4,8 41.4,6 41.4,3 M63.4,84 C59.4,86 57.4,88 57.4,87" />
<path class="q" d="M69.4,4 L69.4,34 C69.4,38 73.4,39 77.4,39 L89.4,39 C93.4,39 96.4,37 96.4,33 L96.4,20 C92.4,18 91.4,12 91.4,4" />
<ellipse cx="80.4" cy="20.0" rx="3.4" ry="6.4" transform="rotate(0 80.4 20.0)" class="p" />
<path class="q" d="M91.4,6 L99.4,6 L99.4,39 L91.4,39 Z" />
<circle cx="95.4" cy="10.0" r="2.2" class="p" />
<circle cx="95.4" cy="26.0" r="2.2" class="p" />
<circle cx="95.4" cy="34.0" r="2.2" class="p" />
<circle cx="95.4" cy="18.0" r="1.2" class="q" />
<circle cx="83.4" cy="44.0" r="6" class="p" stroke-width="1.1"/>
<circle cx="83.4" cy="44.0" r="4.2" class="q" />
<path class="q" d="M70.4,49 L70.4,82 M97.4,49 L97.4,58 C101.4,60 101.4,70 97.4,72 L97.4,86" />
<ellipse cx="87.4" cy="70.0" rx="3.4" ry="6.4" transform="rotate(0 87.4 70.0)" class="p" />
<path class="q" d="M71.4,50 L79.4,50 L79.4,84 L71.4,84 Z" />
<circle cx="75.4" cy="55.0" r="2.2" class="p" />
<circle cx="75.4" cy="66.0" r="2.2" class="p" />
<circle cx="75.4" cy="78.0" r="2.2" class="p" />
<circle cx="75.4" cy="61.0" r="1.2" class="q" />
<circle cx="103.4" cy="44.0" r="1.4" class="p" />
<circle cx="73.4" cy="30.0" r="1.6" class="p" />
<circle cx="89.4" cy="58.0" r="1.6" class="p" />
<circle cx="79.4" cy="62.0" r="1.3" class="p" />
<circle cx="93.4" cy="30.0" r="1.3" class="p" />
<path class="q" d="M69.4,10 C73.4,8 75.4,6 75.4,3 M97.4,84 C93.4,86 91.4,88 91.4,87" />
<path class="q" d="M103.4,4 L103.4,34 C103.4,38 107.4,39 111.4,39 L123.4,39 C127.4,39 130.4,37 130.4,33 L130.4,20 C126.4,18 125.4,12 125.4,4" />
<ellipse cx="114.4" cy="20.0" rx="3.4" ry="6.4" transform="rotate(0 114.4 20.0)" class="p" />
<path class="q" d="M125.4,6 L133.4,6 L133.4,39 L125.4,39 Z" />
<circle cx="129.4" cy="10.0" r="2.2" class="p" />
<circle cx="129.4" cy="26.0" r="2.2" class="p" />
<circle cx="129.4" cy="34.0" r="2.2" class="p" />
<circle cx="129.4" cy="18.0" r="1.2" class="q" />
<circle cx="117.4" cy="44.0" r="6" class="p" stroke-width="1.1"/>
<circle cx="117.4" cy="44.0" r="4.2" class="q" />
<path class="q" d="M104.4,49 L104.4,82 M131.4,49 L131.4,58 C135.4,60 135.4,70 131.4,72 L131.4,86" />
<ellipse cx="121.4" cy="70.0" rx="3.4" ry="6.4" transform="rotate(0 121.4 70.0)" class="p" />
<path class="q" d="M105.4,50 L113.4,50 L113.4,84 L105.4,84 Z" />
<circle cx="109.4" cy="55.0" r="2.2" class="p" />
<circle cx="109.4" cy="66.0" r="2.2" class="p" />
<circle cx="109.4" cy="78.0" r="2.2" class="p" />
<circle cx="109.4" cy="61.0" r="1.2" class="q" />
<circle cx="137.4" cy="44.0" r="1.4" class="p" />
<circle cx="107.4" cy="30.0" r="1.6" class="p" />
<circle cx="123.4" cy="58.0" r="1.6" class="p" />
<circle cx="113.4" cy="62.0" r="1.3" class="p" />
<circle cx="127.4" cy="30.0" r="1.3" class="p" />
<path class="q" d="M103.4,10 C107.4,8 109.4,6 109.4,3 M131.4,84 C127.4,86 125.4,88 125.4,87" />
<ellipse cx="-4.0" cy="18.0" rx="7.48" ry="6.8" transform="rotate(0 -4.0 18.0)" class="p" stroke-width="1.2"/>
<ellipse cx="-4.0" cy="18.5" rx="4.76" ry="4.42" transform="rotate(0 -4.0 18.5)" class="q" stroke-width="1.3"/>
<ellipse cx="-28.0" cy="72.0" rx="8.36" ry="7.6" transform="rotate(0 -28.0 72.0)" class="p" stroke-width="1.2"/>
<ellipse cx="-28.0" cy="72.5" rx="5.319999999999999" ry="4.9399999999999995" transform="rotate(0 -28.0 72.5)" class="q" stroke-width="1.3"/>
<ellipse cx="-5.7" cy="73.0" rx="7.48" ry="6.8" transform="rotate(0 -5.7 73.0)" class="p" stroke-width="1.2"/>
<ellipse cx="-5.7" cy="73.5" rx="4.76" ry="4.42" transform="rotate(0 -5.7 73.5)" class="q" stroke-width="1.3"/>
<path class="q" d="M-14,40 L-2,40 M-20,50 L-2,50 M-8,6 L-6,34 M-32,86 L-14,60 L-14,48" />
<circle cx="-12.0" cy="32.0" r="2" class="p" />
<circle cx="-20.0" cy="58.0" r="2" class="p" />
<circle cx="-16.0" cy="84.0" r="2" class="p" />
<circle cx="-2.0" cy="60.0" r="2" class="p" />
<circle cx="-24.0" cy="48.0" r="2" class="p" />
</g>
</g><g id="vcover">
<!-- body silhouette -->
<path class="p" d="M26,532 L56.7,512 C57,508 58,502 61.8,497 C66,491 72,486 77.3,483 L148.6,440 L152,431.3 L171.6,424.2 L188.4,412.7 C192,410 197,408.3 200.8,408.3 L218.5,411 L227.4,427 L214,441 L26,541 Z"/>
<path class="q" d="M148.6,440 L169.8,428.6 L171.6,424.2"/>
<path d="M176,421 L188.4,412.7" stroke="#333" stroke-width="2.2"/>
<path class="q" d="M26.4,530.9 C30,524 36,520 38.6,517.4 C44,513 50,509 56.7,505.8 L58,509"/>
<path class="q" d="M218.5,411 L216,418 L222,430"/>
<!-- strip in rotated frame -->
<g transform="translate(12.7,538.5) rotate(-29.8)">
<path class="p" d="M0,0 L242,0 L242,9.5 L0,9.5 Z"/>
<path class="q" d="M0,2 L242,2 M0,7.5 L242,7.5 M20,-4 L236,-4"/>
<g class="p">
<rect x="23" y="-2" width="11" height="11.5"/>
<rect x="54" y="-2" width="13" height="11.5"/>
<rect x="89" y="-2" width="13" height="11.5"/>
<rect x="123" y="-2" width="13" height="11.5"/>
<rect x="158" y="-2" width="13" height="11.5"/>
<rect x="193" y="-2" width="13" height="11.5"/>
<rect x="229" y="-2" width="11" height="11.5"/>
</g>
<g class="q">
<rect x="3" y="2" width="7" height="5.5"/><rect x="12" y="2" width="7" height="5.5"/>
<rect x="38" y="2" width="6" height="5.5"/><rect x="46" y="2" width="6" height="5.5"/>
</g>
</g>
<!-- filler neck -->
<ellipse cx="198.2" cy="417.3" rx="8.2" ry="9.8" transform="rotate(-20 198.2 417.3)" class="p"/>
<ellipse cx="199" cy="417.3" rx="5.8" ry="7.4" transform="rotate(-20 199 417.3)" class="q"/>
<path class="q" d="M190,418 L192,428 L204,425"/>
<!-- gasket 9 -->
<path d="M24.3,556.6 L234.6,436" stroke="#3a3a3a" stroke-width="2.8" fill="none"/>
<path d="M24.3,556.6 L234.6,436" stroke="#fff" stroke-width="1" fill="none"/>
<!-- bolt 15 -->
<path class="p" d="M155,390 L159,389 L171,411 L167,413 Z"/>
<path class="q" d="M160,396 L163,394.5 M161.5,399 L164.5,397.5 M163,402 L166,400.5 M164.5,405 L167.5,403.5 M166,408 L169,406.5"/>
<path class="p" d="M149.5,386 C149,384 151,383 153,382.5 L158,381.5 C160,381.5 162,383 161.8,385 C161.5,387 160,389 158,389.5 L153,390 C151,390 149.8,388 149.5,386 Z"/>
<path class="l" d="M171.9,415 L180.2,437"/>
</g>

<g class="l">
<!-- 26 bracket -->
<path d="M326,19.5 L333.6,25.8 L333.6,83.5 L340.5,89 M340.5,97 L333.6,101 L333.6,157.7 L326,164.4"/>
<!-- 27 leader -->
<path d="M312,35.6 L268,37 M264,50 L264,95"/>
<!-- 28 leader -->
<path d="M311.5,141.7 L300,141.7"/>
<!-- 3 bracket -->
<path d="M430,76 L437,68 L487,68 L496.4,58.5 L505,68 L574,68 L582,77 M458.8,68 L458.8,160.5"/>
<!-- 25 leader -->
<path d="M554.3,86.5 L554.3,98"/>
<!-- 20 leader -->
<path d="M542.3,157.5 L542.3,150"/>
<!-- 2 bracket -->
<path d="M464.7,242.4 L470.4,233.6 L517.6,233.6 L526,225.5 L534,233.6 L579.3,233.6 L587,243 M493.7,233.6 L493.7,287"/>
<!-- 1 bracket -->
<path d="M278.3,226.3 L268.6,234 L268.6,271.5 L259,281 L268.6,290.8 L268.6,325.6 L278.3,335.3 M268.6,245.6 L286,245.6"/>
<!-- 24 leaders -->
<path d="M290.5,313.2 L350,313.2 M447.8,304.4 L456,304.4"/>
<!-- 21 leaders -->
<path d="M387.5,273.4 L384,273.4 M428,249 L434,249"/>
<!-- 6 bracket -->
<path d="M414.8,350 L424,339.6 L466.4,339.6 L474.7,331.4 L483.5,339.6 L527.4,339.6 L537.8,348.4 M514.5,339.6 L514.5,389.8"/>
<!-- 8 leader -->
<path d="M429.2,358.2 L429.2,405.3"/>
<!-- 7 bracket -->
<path d="M46.4,357.7 L55,348.7 L121.7,348.7 L128.5,339.5 L136,348.7 L205,348.7 L212,358.6 M59.5,348.7 L59.5,496.7"/>
<!-- 15b leader -->
<path d="M187.1,368 L187.1,387.8 L163,400"/>
<!-- 9b leader -->
<path d="M246,436.3 L234.5,436.3"/>
<!-- 10 bracket -->
<path d="M384.3,352 L392,358.8 L392,375.8 L396,383 M396,383 L392,389.8 L392,408 L384.3,415.6 M392,364 L367.2,364"/>
<!-- 13 leader -->
<path d="M369.8,401 L341.4,401"/>
</g>

<ellipse cx="130" cy="32" rx="9.6" ry="9.9" class="c"/><g class="d" transform="translate(124.40,26.90)"><path d="M1.4,2.0 L3.2,0.3 L3.2,10.6"/></g><g class="d" transform="translate(130.40,26.90)"><path d="M1.4,2.0 L3.2,0.3 L3.2,10.6"/></g><ellipse cx="78" cy="61" rx="11.8" ry="10.3" class="c"/><g class="d" transform="translate(71.75,55.90)"><path d="M1.4,2.0 L3.2,0.3 L3.2,10.6"/></g><g class="d" transform="translate(77.75,55.90)"><path d="M0.8,2.8 C1.0,1.1 2.2,0.2 3.6,0.2 C5.2,0.2 6.3,1.4 6.3,2.9 C6.3,3.9 5.9,4.6 5.2,5.5 L0.6,10.5 L6.7,10.5"/></g><ellipse cx="323.2" cy="35.5" rx="11.8" ry="10.3" class="c"/><g class="d" transform="translate(316.35,30.40)"><path d="M0.8,2.8 C1.0,1.1 2.2,0.2 3.6,0.2 C5.2,0.2 6.3,1.4 6.3,2.9 C6.3,3.9 5.9,4.6 5.2,5.5 L0.6,10.5 L6.7,10.5"/></g><g class="d" transform="translate(323.65,30.40)"><path d="M0.4,0.4 L6.6,0.4 L2.3,10.6"/></g><ellipse cx="350.9" cy="92.6" rx="11.8" ry="10.3" class="c"/><g class="d" transform="translate(344.00,87.50)"><path d="M0.8,2.8 C1.0,1.1 2.2,0.2 3.6,0.2 C5.2,0.2 6.3,1.4 6.3,2.9 C6.3,3.9 5.9,4.6 5.2,5.5 L0.6,10.5 L6.7,10.5"/></g><g class="d" transform="translate(351.30,87.50)"><path d="M4.6,0.2 L1.3,5.9 C0.8,6.6 0.5,7.3 0.5,7.9 C0.5,9.5 1.8,10.6 3.5,10.6 C5.2,10.6 6.5,9.4 6.5,7.8 C6.5,6.2 5.2,5.1 3.5,5.1 C2.8,5.1 2.0,5.4 1.4,5.8"/></g><ellipse cx="323" cy="141.7" rx="11.8" ry="10.3" class="c"/><g class="d" transform="translate(316.15,136.60)"><path d="M0.8,2.8 C1.0,1.1 2.2,0.2 3.6,0.2 C5.2,0.2 6.3,1.4 6.3,2.9 C6.3,3.9 5.9,4.6 5.2,5.5 L0.6,10.5 L6.7,10.5"/></g><g class="d" transform="translate(323.45,136.60)"><ellipse cx="3.5" cy="2.65" rx="2.5" ry="2.45"/><ellipse cx="3.5" cy="7.75" rx="3.0" ry="2.85"/></g><ellipse cx="496.4" cy="48.5" rx="7.9" ry="9.6" class="c"/><g class="d" transform="translate(493.15,43.40)"><path d="M1.0,1.3 C1.6,0.5 2.5,0.2 3.4,0.2 C5.0,0.2 6.0,1.2 6.0,2.7 C6.0,4.2 4.9,5.0 3.2,5.0 C5.2,5.0 6.5,6.2 6.5,7.8 C6.5,9.5 5.2,10.6 3.4,10.6 C2.2,10.6 1.2,10.1 0.5,9.2"/></g><ellipse cx="554.3" cy="76.6" rx="11.8" ry="10.3" class="c"/><g class="d" transform="translate(547.40,71.50)"><path d="M0.8,2.8 C1.0,1.1 2.2,0.2 3.6,0.2 C5.2,0.2 6.3,1.4 6.3,2.9 C6.3,3.9 5.9,4.6 5.2,5.5 L0.6,10.5 L6.7,10.5"/></g><g class="d" transform="translate(554.70,71.50)"><path d="M6.0,0.4 L2.0,0.4 L1.3,4.9 C2.0,4.4 2.8,4.2 3.5,4.2 C5.3,4.2 6.5,5.5 6.5,7.3 C6.5,9.3 5.2,10.6 3.4,10.6 C2.2,10.6 1.2,10.1 0.5,9.3"/></g><ellipse cx="542.3" cy="167.5" rx="11.8" ry="10.3" class="c"/><g class="d" transform="translate(535.45,162.40)"><path d="M0.8,2.8 C1.0,1.1 2.2,0.2 3.6,0.2 C5.2,0.2 6.3,1.4 6.3,2.9 C6.3,3.9 5.9,4.6 5.2,5.5 L0.6,10.5 L6.7,10.5"/></g><g class="d" transform="translate(542.75,162.40)"><ellipse cx="3.5" cy="5.3" rx="3.0" ry="5.1"/></g><ellipse cx="525.3" cy="214" rx="7.9" ry="9.6" class="c"/><g class="d" transform="translate(522.05,208.90)"><path d="M0.8,2.8 C1.0,1.1 2.2,0.2 3.6,0.2 C5.2,0.2 6.3,1.4 6.3,2.9 C6.3,3.9 5.9,4.6 5.2,5.5 L0.6,10.5 L6.7,10.5"/></g><ellipse cx="560.6" cy="241.9" rx="11.8" ry="10.3" class="c"/><g class="d" transform="translate(553.65,236.80)"><path d="M0.8,2.8 C1.0,1.1 2.2,0.2 3.6,0.2 C5.2,0.2 6.3,1.4 6.3,2.9 C6.3,3.9 5.9,4.6 5.2,5.5 L0.6,10.5 L6.7,10.5"/></g><g class="d" transform="translate(560.95,236.80)"><path d="M5.0,10.6 L5.0,0.2 L0.3,7.8 L6.9,7.8"/></g><ellipse cx="416.3" cy="249" rx="11.8" ry="10.3" class="c"/><g class="d" transform="translate(410.05,243.90)"><path d="M0.8,2.8 C1.0,1.1 2.2,0.2 3.6,0.2 C5.2,0.2 6.3,1.4 6.3,2.9 C6.3,3.9 5.9,4.6 5.2,5.5 L0.6,10.5 L6.7,10.5"/></g><g class="d" transform="translate(417.35,243.90)"><path d="M1.4,2.0 L3.2,0.3 L3.2,10.6"/></g><ellipse cx="249.9" cy="280.9" rx="5.9" ry="9.85" class="c"/><g class="d" transform="translate(247.30,275.80)"><path d="M1.4,2.0 L3.2,0.3 L3.2,10.6"/></g><ellipse cx="398.9" cy="273.4" rx="11.8" ry="10.3" class="c"/><g class="d" transform="translate(392.65,268.30)"><path d="M0.8,2.8 C1.0,1.1 2.2,0.2 3.6,0.2 C5.2,0.2 6.3,1.4 6.3,2.9 C6.3,3.9 5.9,4.6 5.2,5.5 L0.6,10.5 L6.7,10.5"/></g><g class="d" transform="translate(399.95,268.30)"><path d="M1.4,2.0 L3.2,0.3 L3.2,10.6"/></g><ellipse cx="279" cy="313.2" rx="11.8" ry="10.3" class="c"/><g class="d" transform="translate(272.05,308.10)"><path d="M0.8,2.8 C1.0,1.1 2.2,0.2 3.6,0.2 C5.2,0.2 6.3,1.4 6.3,2.9 C6.3,3.9 5.9,4.6 5.2,5.5 L0.6,10.5 L6.7,10.5"/></g><g class="d" transform="translate(279.35,308.10)"><path d="M5.0,10.6 L5.0,0.2 L0.3,7.8 L6.9,7.8"/></g><ellipse cx="436" cy="304.4" rx="11.8" ry="10.3" class="c"/><g class="d" transform="translate(429.05,299.30)"><path d="M0.8,2.8 C1.0,1.1 2.2,0.2 3.6,0.2 C5.2,0.2 6.3,1.4 6.3,2.9 C6.3,3.9 5.9,4.6 5.2,5.5 L0.6,10.5 L6.7,10.5"/></g><g class="d" transform="translate(436.35,299.30)"><path d="M5.0,10.6 L5.0,0.2 L0.3,7.8 L6.9,7.8"/></g><ellipse cx="474.7" cy="322.6" rx="7.9" ry="9.6" class="c"/><g class="d" transform="translate(471.45,317.50)"><path d="M4.6,0.2 L1.3,5.9 C0.8,6.6 0.5,7.3 0.5,7.9 C0.5,9.5 1.8,10.6 3.5,10.6 C5.2,10.6 6.5,9.4 6.5,7.8 C6.5,6.2 5.2,5.1 3.5,5.1 C2.8,5.1 2.0,5.4 1.4,5.8"/></g><ellipse cx="429.2" cy="348.4" rx="7.9" ry="9.6" class="c"/><g class="d" transform="translate(426.00,343.30)"><ellipse cx="3.5" cy="2.65" rx="2.5" ry="2.45"/><ellipse cx="3.5" cy="7.75" rx="3.0" ry="2.85"/></g><ellipse cx="470.6" cy="347" rx="11.8" ry="10.3" class="c"/><g class="d" transform="translate(464.35,341.90)"><path d="M1.4,2.0 L3.2,0.3 L3.2,10.6"/></g><g class="d" transform="translate(470.35,341.90)"><path d="M6.0,0.4 L2.0,0.4 L1.3,4.9 C2.0,4.4 2.8,4.2 3.5,4.2 C5.3,4.2 6.5,5.5 6.5,7.3 C6.5,9.3 5.2,10.6 3.4,10.6 C2.2,10.6 1.2,10.1 0.5,9.3"/></g><ellipse cx="128.5" cy="328.2" rx="7.9" ry="9.6" class="c"/><g class="d" transform="translate(125.30,323.10)"><path d="M0.4,0.4 L6.6,0.4 L2.3,10.6"/></g><ellipse cx="101.5" cy="356.5" rx="7.9" ry="9.6" class="c"/><g class="d" transform="translate(98.25,351.40)"><path d="M2.4,10.4 L5.7,4.7 C6.2,4.0 6.5,3.3 6.5,2.7 C6.5,1.1 5.2,0 3.5,0 C1.8,0 0.5,1.2 0.5,2.8 C0.5,4.4 1.8,5.5 3.5,5.5 C4.2,5.5 5.0,5.2 5.6,4.8"/></g><ellipse cx="187.1" cy="357.8" rx="11.8" ry="10.3" class="c"/><g class="d" transform="translate(180.85,352.70)"><path d="M1.4,2.0 L3.2,0.3 L3.2,10.6"/></g><g class="d" transform="translate(186.85,352.70)"><path d="M6.0,0.4 L2.0,0.4 L1.3,4.9 C2.0,4.4 2.8,4.2 3.5,4.2 C5.3,4.2 6.5,5.5 6.5,7.3 C6.5,9.3 5.2,10.6 3.4,10.6 C2.2,10.6 1.2,10.1 0.5,9.3"/></g><ellipse cx="407.5" cy="383" rx="11.8" ry="10.3" class="c"/><g class="d" transform="translate(401.30,377.90)"><path d="M1.4,2.0 L3.2,0.3 L3.2,10.6"/></g><g class="d" transform="translate(407.30,377.90)"><ellipse cx="3.5" cy="5.3" rx="3.0" ry="5.1"/></g><ellipse cx="380.5" cy="401.2" rx="11.8" ry="10.3" class="c"/><g class="d" transform="translate(374.25,396.10)"><path d="M1.4,2.0 L3.2,0.3 L3.2,10.6"/></g><g class="d" transform="translate(380.25,396.10)"><path d="M1.0,1.3 C1.6,0.5 2.5,0.2 3.4,0.2 C5.0,0.2 6.0,1.2 6.0,2.7 C6.0,4.2 4.9,5.0 3.2,5.0 C5.2,5.0 6.5,6.2 6.5,7.8 C6.5,9.5 5.2,10.6 3.4,10.6 C2.2,10.6 1.2,10.1 0.5,9.2"/></g><ellipse cx="254.1" cy="436.3" rx="7.9" ry="9.6" class="c"/><g class="d" transform="translate(250.85,431.20)"><path d="M2.4,10.4 L5.7,4.7 C6.2,4.0 6.5,3.3 6.5,2.7 C6.5,1.1 5.2,0 3.5,0 C1.8,0 0.5,1.2 0.5,2.8 C0.5,4.4 1.8,5.5 3.5,5.5 C4.2,5.5 5.0,5.2 5.6,4.8"/></g><ellipse cx="545.3" cy="544.6" rx="11.8" ry="10.3" class="c"/><g class="d" transform="translate(539.05,539.50)"><path d="M1.4,2.0 L3.2,0.3 L3.2,10.6"/></g><g class="d" transform="translate(545.05,539.50)"><path d="M6.0,0.4 L2.0,0.4 L1.3,4.9 C2.0,4.4 2.8,4.2 3.5,4.2 C5.3,4.2 6.5,5.5 6.5,7.3 C6.5,9.3 5.2,10.6 3.4,10.6 C2.2,10.6 1.2,10.1 0.5,9.3"/></g>
<!-- red box + arrow -->
<rect x="515.6" y="208.4" width="21.8" height="16" fill="none" stroke="#e60012" stroke-width="3"/>
<path d="M599,134.5 L541,198" stroke="#e60012" stroke-width="3" fill="none"/>
<path d="M534.2,206 L536.4,192.5 L547.2,199.2 Z" fill="#e60012" stroke="#e60012" stroke-width="1" stroke-linejoin="round"/>

</svg></body></html>
